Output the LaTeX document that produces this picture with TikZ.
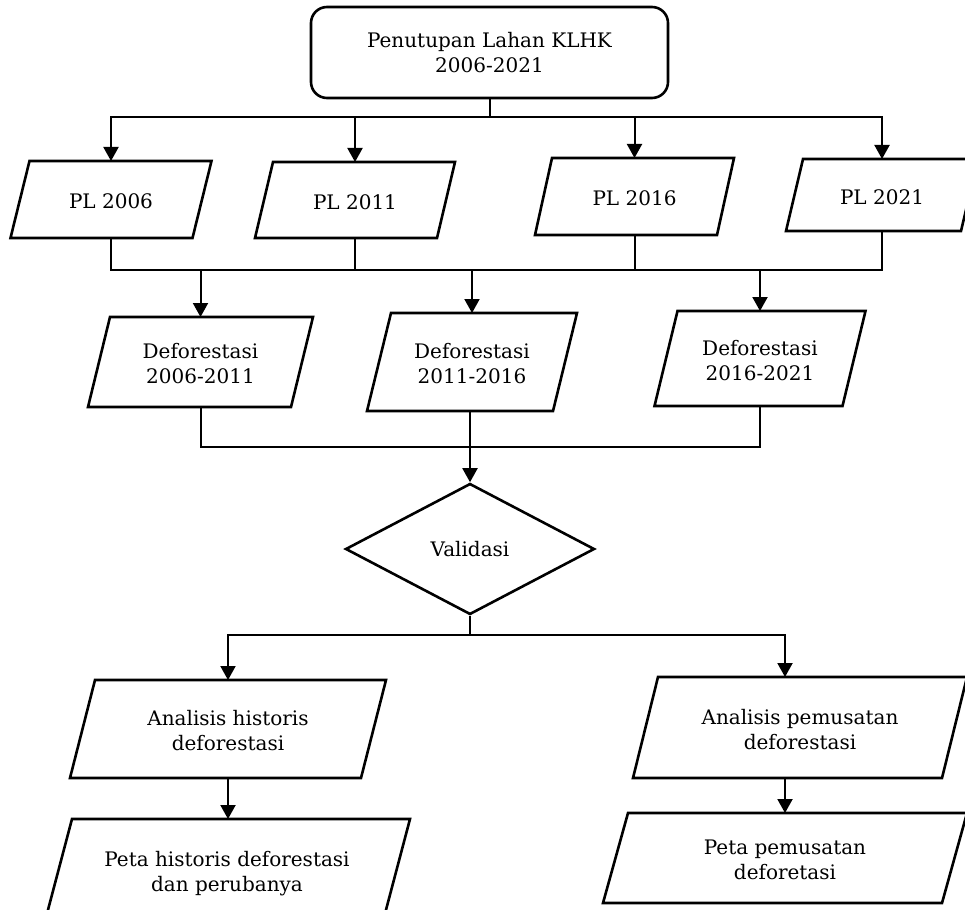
\documentclass[tikz,border=0pt]{standalone}
\usepackage{fontspec}
\setmainfont{DejaVu Serif}
\usetikzlibrary{arrows.meta,shapes.geometric}
\tikzset{
  boxline/.style={draw=black, line width=2.6pt, line join=miter},
  conn/.style={draw=black, line width=2pt},
  arr/.style={conn, -{Triangle[length=14pt,width=15pt]}},
  txt/.style={align=center, font=\fontsize{20}{25}\selectfont, inner sep=0pt},
}
\newcommand\parabox[7]{%
  \node[txt] (#1) at (#2,{#3+2}) {#7};
  \draw[boxline] ({#2-#4/2-#6/2},{#3+#5/2}) -- ({#2+#4/2-#6/2},{#3+#5/2}) -- ({#2+#4/2+#6/2},{#3-#5/2}) -- ({#2-#4/2+#6/2},{#3-#5/2}) -- cycle;
  \coordinate (#1-n) at (#2,{#3-#5/2});
  \coordinate (#1-s) at (#2,{#3+#5/2});
}
\begin{document}
\begin{tikzpicture}[x=1pt,y=-1pt]
\useasboundingbox (0,0) rectangle (965,909);
\fill[white] (0,0) rectangle (965,909);
\node[boxline, txt, rounded corners=16pt, minimum width=357pt, minimum height=91pt] (top) at (489.5,52.5) {Penutupan Lahan KLHK\\2006-2021};
\parabox{pl06}{111}{199.5}{182}{77}{19}{PL 2006}
\parabox{pl11}{355}{200}{182}{76}{18}{PL 2011}
\parabox{pl16}{634.5}{196.5}{182}{77}{17}{PL 2016}
\parabox{pl21}{882}{195}{175}{72}{17}{PL 2021}
\parabox{d1}{200.5}{362}{203}{90}{22}{Deforestasi\\2006-2011}
\parabox{d2}{472}{362}{186}{98}{24}{Deforestasi\\2011-2016}
\parabox{d3}{760}{358.5}{188}{95}{23}{Deforestasi\\2016-2021}
\node[boxline, txt, diamond, minimum width=249pt, minimum height=131pt] (val) at (470,549) {Validasi};
\parabox{a1}{228}{729}{291}{98}{25}{Analisis historis\\deforestasi}
\parabox{a2}{800}{727.5}{309}{101}{25}{Analisis pemusatan\\deforestasi}
\parabox{p1}{227}{872}{338}{106}{28}{Peta historis deforestasi\\dan perubanya}
\parabox{p2}{785}{858}{339}{90}{25}{Peta pemusatan\\deforetasi}
% connectors
\coordinate (j1) at (489.5,117);
\draw[conn] (top.south) -- (j1);
\foreach \b in {pl06,pl11,pl16,pl21} \draw[arr] (j1) -| (\b-n);
\coordinate (j2) at (470,270);
\foreach \b in {pl06,pl11,pl16,pl21} \draw[conn] (\b-s) |- (j2);
\foreach \b in {d1,d2,d3} \draw[arr] (j2) -| (\b-n);
\coordinate (j3) at (470,447);
\draw[conn] (d1-s) |- (j3);
\draw[conn] (d3-s) |- (j3);
\draw[arr] (val.north |- d2-s) -- (val.north);
\coordinate (j4) at (470,635);
\draw[conn] (val.south) -- (j4);
\draw[arr] (j4) -| (a1-n);
\draw[arr] (j4) -| (a2-n -| p2-n);
\draw[arr] (a1-s) -- (a1-s |- p1-n);
\draw[arr] (a2-s -| p2-n) -- (p2-n);
\end{tikzpicture}
\end{document}
